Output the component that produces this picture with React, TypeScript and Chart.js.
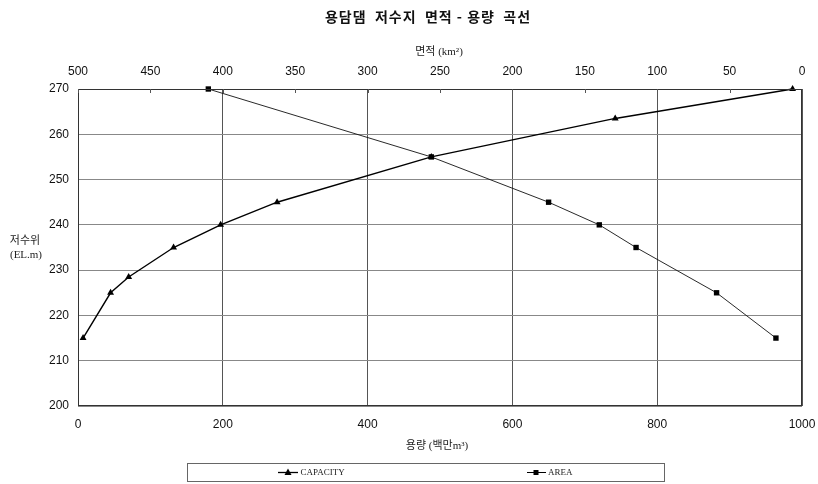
import React, { useEffect, useRef } from 'react';
import { Chart, registerables } from 'chart.js';
Chart.register(...registerables);

// CAPACITY series: elevation (EL.m) vs storage (백만m³)
const capacityElev = [215, 225, 228.5, 235, 240, 245, 255, 263.5, 270];
const capacityVol = [7, 45, 70, 132, 197, 275, 488, 742, 987];
// AREA series: elevation (EL.m) vs area (km²)
const areaElev = [270, 255, 245, 240, 235, 225, 215];
const areaKm2 = [410, 256, 175, 140, 114.6, 59, 18];

const volTicks = [0, 200, 400, 600, 800, 1000];
const areaTicks = [0, 50, 100, 150, 200, 250, 300, 350, 400, 450, 500];
const elevTicks = [200, 210, 220, 230, 240, 250, 260, 270];

const TITLE = '용담댐  저수지  면적 - 용량  곡선';
const TOP_TITLE = '면적 (km²)';
const BOTTOM_TITLE = '용량 (백만m³)';
const LEFT_TITLE = ['저수위', '(EL.m)'];
const LEGEND = ['CAPACITY', 'AREA'];

const SERIF = '"Liberation Serif", "Noto Sans CJK KR", serif';
const SANS = '"Liberation Sans", Arial, sans-serif';

const decorPlugin = {
  id: 'decor',
  afterDraw(chart: any) {
    const { ctx, chartArea: ca } = chart;
    ctx.save();
    // plot border
    ctx.strokeStyle = '#333';
    ctx.lineWidth = 1;
    ctx.strokeRect(Math.round(ca.left) + 0.5, Math.round(ca.top) + 0.5,
      Math.round(ca.right - ca.left) - 1, Math.round(ca.bottom - ca.top) - 1);
    // inward ticks on top axis
    const x2 = chart.scales.x2;
    ctx.strokeStyle = '#555';
    x2.ticks.forEach((t: any) => {
      const px = Math.round(x2.getPixelForValue(t.value)) + 0.5;
      ctx.beginPath();
      ctx.moveTo(px, ca.top);
      ctx.lineTo(px, ca.top + 4);
      ctx.stroke();
    });
    // texts
    ctx.fillStyle = '#111';
    ctx.textAlign = 'center';
    ctx.textBaseline = 'middle';
    ctx.font = 'bold 14px "Noto Sans CJK KR", sans-serif';
    (ctx as any).letterSpacing = '1px';
    ctx.fillText(TITLE, 428, 17);
    (ctx as any).letterSpacing = '0px';
    ctx.fillStyle = '#222';
    ctx.font = '11px ' + SERIF;
    ctx.fillText(TOP_TITLE, 439, 52);
    ctx.fillText(BOTTOM_TITLE, 437, 446);
    const midY = (ca.top + ca.bottom) / 2;
    ctx.fillText(LEFT_TITLE[0], 25, midY - 6);
    ctx.fillText(LEFT_TITLE[1], 26, midY + 8);
    // legend box
    ctx.strokeStyle = '#666';
    ctx.lineWidth = 1;
    ctx.strokeRect(187.5, 463.5, 477, 18);
    const ly = 472.5;
    // capacity item
    ctx.strokeStyle = '#000';
    ctx.lineWidth = 1.3;
    ctx.beginPath(); ctx.moveTo(278, ly); ctx.lineTo(298, ly); ctx.stroke();
    ctx.fillStyle = '#000';
    ctx.beginPath();
    ctx.moveTo(288, ly - 4); ctx.lineTo(291.5, ly + 2.5); ctx.lineTo(284.5, ly + 2.5); ctx.closePath(); ctx.fill();
    // area item
    ctx.lineWidth = 1;
    ctx.beginPath(); ctx.moveTo(527, ly); ctx.lineTo(546, ly); ctx.stroke();
    ctx.fillRect(533.5, ly - 2.5, 5, 5);
    ctx.fillStyle = '#222';
    ctx.font = '9px ' + SERIF;
    ctx.textAlign = 'left';
    ctx.fillText(LEGEND[0], 300.5, ly + 0.5);
    ctx.fillText(LEGEND[1], 548, ly + 0.5);
    ctx.restore();
  },
};

const plain = (v: any) => String(v);
const noSidePad = (s: any) => { s.paddingLeft = 0; s.paddingRight = 0; };

export default function App() {
  const ref = useRef<HTMLCanvasElement>(null);
  useEffect(() => {
    document.body.style.margin = '0';
    const chart = new Chart(ref.current!, {
      type: 'scatter',
      data: {
        datasets: [
          {
            label: LEGEND[0],
            data: capacityVol.map((v, i) => ({ x: v, y: capacityElev[i] })),
            xAxisID: 'x',
            yAxisID: 'y',
            showLine: true,
            clip: false,
            borderColor: '#000',
            backgroundColor: '#000',
            borderWidth: 1.4,
            pointStyle: 'triangle',
            pointRadius: 4,
            pointBorderWidth: 0,
          },
          {
            label: LEGEND[1],
            data: areaKm2.map((v, i) => ({ x: v, y: areaElev[i] })),
            xAxisID: 'x2',
            yAxisID: 'y',
            showLine: true,
            clip: false,
            borderColor: '#111',
            backgroundColor: '#000',
            borderWidth: 0.9,
            pointStyle: 'rect',
            pointRadius: 3.8,
            pointBorderWidth: 0,
          },
        ],
      },
      options: {
        animation: false,
        responsive: false,
        maintainAspectRatio: false,
        layout: { padding: { left: 0, right: 16, top: 0, bottom: 0 } },
        plugins: { legend: { display: false }, tooltip: { enabled: false }, title: { display: false } },
        scales: {
          x: {
            type: 'linear',
            position: 'bottom',
            min: 0,
            max: 1000,
            afterBuildTicks: (s: any) => { s.ticks = volTicks.map((v) => ({ value: v })); },
            afterFit: (s: any) => { s.height = 78; noSidePad(s); },
            ticks: { padding: 11, color: '#111', font: { family: SANS, size: 12 }, callback: plain },
            grid: { color: '#555', lineWidth: 1, drawTicks: false },
            border: { display: false },
          },
          x2: {
            type: 'linear',
            position: 'top',
            min: 0,
            max: 500,
            reverse: true,
            afterBuildTicks: (s: any) => { s.ticks = areaTicks.map((v) => ({ value: v })); },
            afterFit: (s: any) => { s.height = 89; noSidePad(s); },
            ticks: { padding: 10, color: '#111', font: { family: SANS, size: 12 }, callback: plain },
            grid: { display: false, drawTicks: false },
            border: { display: false },
          },
          y: {
            type: 'linear',
            min: 200,
            max: 270,
            afterBuildTicks: (s: any) => { s.ticks = elevTicks.map((v) => ({ value: v })); },
            afterFit: (s: any) => { s.width = 78; },
            ticks: { padding: 9, color: '#111', font: { family: SANS, size: 12 }, callback: plain },
            grid: { color: '#888', lineWidth: 1, drawTicks: false },
            border: { display: false },
          },
        },
      },
      plugins: [decorPlugin],
    });
    return () => chart.destroy();
  }, []);
  return (
    <div style={{ position: 'absolute', left: 0, top: 0, width: 818, height: 484 }}>
      <canvas ref={ref} width={818} height={484} style={{ width: 818, height: 484 }} />
    </div>
  );
}
